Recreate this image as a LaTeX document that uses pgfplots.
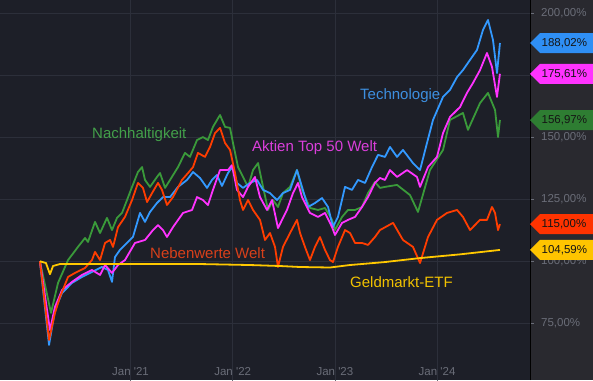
\documentclass[border=0pt]{standalone}
\usepackage{pgfplots}
\pgfplotsset{compat=1.18}
\usepackage{fontspec}
\setmainfont{Liberation Sans}
\definecolor{bg}{HTML}{1D1F28}
\definecolor{strip}{HTML}{29292F}
\definecolor{gridc}{HTML}{2C2F3A}
\definecolor{tickc}{HTML}{6A6D78}
\definecolor{ctech}{HTML}{3399FF}
\definecolor{ctop}{HTML}{FF33FF}
\definecolor{cnach}{HTML}{3A9A3A}
\definecolor{cneben}{HTML}{FF3D00}
\definecolor{cgeld}{HTML}{FFC800}
\definecolor{ltech}{HTML}{3D8FE0}
\definecolor{ltop}{HTML}{DB3FDB}
\definecolor{lnach}{HTML}{43A04A}
\definecolor{lneben}{HTML}{D9401A}
\definecolor{lgeld}{HTML}{F2C200}
\definecolor{gtag}{HTML}{2E7D32}
\definecolor{ttag}{HTML}{2F8FF5}
\definecolor{rtag}{HTML}{FF3300}
\definecolor{ytag}{HTML}{FFC400}
\definecolor{tagtxt}{HTML}{151515}
\newcommand{\lblfont}{\fontsize{15}{17}\selectfont}
\newcommand{\tickfont}{\fontsize{11.5}{13}\selectfont}
\begin{document}
\begin{tikzpicture}
\path[use as bounding box] (0,0) rectangle (593pt,380pt);
\fill[bg] (0,0) rectangle (530pt,380pt);
\fill[strip] (530pt,0) rectangle (593pt,380pt);
\begin{axis}[
  at={(0,0)}, anchor=south west,
  scale only axis, width=530pt, height=380pt,
  xmin=2019.7231, xmax=2024.909, ymin=52.14, ymax=205.36,
  axis line style={draw=none},
  xtick={2021,2022,2023,2024},
  xticklabels={Jan \textquotesingle21,Jan \textquotesingle22,Jan \textquotesingle23,Jan \textquotesingle24},
  ytick={75,100,125,150,175,200},
  yticklabels={{75,00\%},{100,00\%},{125,00\%},{150,00\%},{175,00\%},{200,00\%}},
  grid=major, grid style={gridc, line width=0.8pt},
  tick style={tickc, line width=0.6pt},
  major tick length=4pt,
  tick align=outside,
  ytick pos=right, xtick pos=bottom,
  yticklabel pos=right,
  yticklabel style={anchor=west, font=\tickfont, text=tickc, inner sep=0pt, xshift=7pt},
  xticklabel style={anchor=base, font=\tickfont, text=tickc, inner sep=0pt, yshift=9pt},
  clip=false,
  every axis plot/.append style={line width=1.8pt, line join=round},
]
% Nachhaltigkeit
\addplot[cnach] coordinates {
(2020.114,100) (2020.222,79.2) (2020.291,91.3) (2020.389,100.5) (2020.486,105.8) (2020.555,109.4)
(2020.584,107.8) (2020.653,115.9) (2020.702,111.4) (2020.770,117.5) (2020.819,112.6) (2020.868,117.5)
(2020.917,119.5) (2020.966,124.7) (2021.015,130.0) (2021.073,136.0) (2021.113,138.0) (2021.142,132.8)
(2021.191,130.0) (2021.259,134.0) (2021.289,135.6) (2021.338,129.6) (2021.387,132.8) (2021.465,138.0)
(2021.533,143.7) (2021.582,142.1) (2021.651,148.9) (2021.709,150.1) (2021.758,148.9) (2021.807,154.2)
(2021.876,159.0) (2021.925,154.2) (2021.974,153.8) (2022.003,147.7) (2022.052,138.0) (2022.101,134.0)
(2022.150,130.0) (2022.199,136.8) (2022.248,139.6) (2022.297,130.0) (2022.346,120.7) (2022.394,124.7)
(2022.443,121.9) (2022.492,127.5) (2022.561,130.0) (2022.629,136.8) (2022.678,128.8) (2022.756,121.5)
(2022.835,120.7) (2022.903,121.5) (2022.972,116.7) (2023.001,112.6) (2023.070,117.9) (2023.128,120.7)
(2023.197,120.7) (2023.265,121.9) (2023.324,127.5) (2023.392,132.0) (2023.441,129.6) (2023.490,130.0)
(2023.608,130.8) (2023.735,126.7) (2023.813,119.9) (2023.930,136.8) (2024.058,144.9) (2024.126,157.0)
(2024.253,159.8) (2024.302,153.0) (2024.420,163.8) (2024.498,167.9) (2024.567,161.0) (2024.596,150.1)
(2024.615,156.97)
};
% Technologie
\addplot[ctech] coordinates {
(2020.114,100) (2020.203,66.3) (2020.261,80.4) (2020.330,87.2) (2020.428,91.3) (2020.525,93.7)
(2020.623,95.7) (2020.721,97.7) (2020.780,96.5) (2020.819,91.7) (2020.848,101.7) (2020.897,104.6)
(2020.946,106.6) (2021.024,109.8) (2021.093,119.5) (2021.142,115.9) (2021.191,119.9) (2021.259,123.5)
(2021.318,125.9) (2021.387,125.9) (2021.465,130.0) (2021.553,132.8) (2021.612,136.0) (2021.680,133.6)
(2021.749,129.6) (2021.797,132.8) (2021.846,134.8) (2021.895,130.4) (2021.954,135.6) (2021.993,138.0)
(2022.042,131.6) (2022.101,129.6) (2022.169,131.6) (2022.238,132.8) (2022.297,128.8) (2022.365,127.5)
(2022.434,124.7) (2022.492,127.5) (2022.561,128.8) (2022.629,136.8) (2022.678,130.0) (2022.737,121.9)
(2022.805,123.5) (2022.874,125.5) (2022.933,121.9) (2022.981,113.8) (2023.030,117.9) (2023.099,130.0)
(2023.167,128.8) (2023.226,132.8) (2023.295,131.6) (2023.363,138.0) (2023.422,142.9) (2023.490,142.1)
(2023.539,146.1) (2023.608,142.1) (2023.666,144.9) (2023.764,139.6) (2023.833,136.8) (2023.901,147.7)
(2023.960,157.0) (2024.058,166.3) (2024.126,169.1) (2024.195,174.3) (2024.253,177.1) (2024.322,181.2)
(2024.390,185.2) (2024.449,193.3) (2024.498,197.3) (2024.547,189.2) (2024.586,175.9) (2024.615,188.02)
};
% Aktien Top 50 Welt
\addplot[ctop] coordinates {
(2020.114,100) (2020.212,72.3) (2020.261,81.6) (2020.330,88.4) (2020.428,91.7) (2020.525,94.5)
(2020.623,96.5) (2020.702,94.5) (2020.751,98.5) (2020.819,95.3) (2020.878,98.5) (2020.946,100.5)
(2021.044,107.4) (2021.142,108.6) (2021.220,112.6) (2021.269,114.6) (2021.318,112.6) (2021.357,109.8)
(2021.416,113.8) (2021.514,119.5) (2021.602,120.7) (2021.651,125.9) (2021.709,124.7) (2021.758,122.7)
(2021.807,128.8) (2021.876,136.8) (2021.954,136.8) (2021.993,138.8) (2022.042,128.8) (2022.101,125.9)
(2022.150,130.0) (2022.218,134.0) (2022.267,125.9) (2022.336,120.7) (2022.385,124.7) (2022.443,113.4)
(2022.531,120.7) (2022.590,127.5) (2022.639,131.6) (2022.678,125.9) (2022.756,119.5) (2022.835,117.9)
(2022.903,119.5) (2022.972,113.8) (2023.001,110.6) (2023.070,115.5) (2023.128,116.7) (2023.197,117.9)
(2023.265,121.9) (2023.324,125.9) (2023.392,131.6) (2023.441,133.6) (2023.490,132.8) (2023.539,136.8)
(2023.608,134.0) (2023.706,136.8) (2023.803,134.0) (2023.833,130.0) (2023.911,138.0) (2023.999,142.1)
(2024.058,151.7) (2024.126,158.2) (2024.224,162.2) (2024.292,167.9) (2024.351,171.9) (2024.420,177.1)
(2024.488,184.0) (2024.537,178.4) (2024.586,166.3) (2024.615,175.61)
};
% Nebenwerte Welt
\addplot[cneben] coordinates {
(2020.114,100) (2020.203,68.3) (2020.261,79.2) (2020.310,85.6) (2020.389,93.7) (2020.457,95.3)
(2020.555,97.3) (2020.623,100.5) (2020.653,103.8) (2020.702,100.5) (2020.751,107.4) (2020.800,108.6)
(2020.829,105.8) (2020.878,113.8) (2020.946,117.9) (2021.015,124.7) (2021.073,131.6) (2021.122,129.6)
(2021.162,123.9) (2021.211,127.5) (2021.269,131.6) (2021.308,128.8) (2021.357,122.7) (2021.416,125.9)
(2021.504,132.8) (2021.563,135.6) (2021.612,138.0) (2021.660,143.7) (2021.729,142.1) (2021.778,146.1)
(2021.827,151.7) (2021.876,153.8) (2021.925,147.7) (2021.974,144.9) (2022.023,135.6) (2022.071,124.7)
(2022.101,120.7) (2022.150,124.7) (2022.199,120.7) (2022.267,116.7) (2022.316,108.6) (2022.365,111.4)
(2022.414,105.8) (2022.443,97.7) (2022.492,105.8) (2022.561,111.4) (2022.629,116.7) (2022.659,111.4)
(2022.707,105.8) (2022.756,100.5) (2022.805,105.8) (2022.854,109.8) (2022.903,104.6) (2022.952,100.5)
(2022.981,99.7) (2023.030,105.8) (2023.099,112.6) (2023.148,111.4) (2023.197,107.4) (2023.265,107.4)
(2023.324,106.6) (2023.392,109.8) (2023.441,112.6) (2023.569,115.5) (2023.666,108.6) (2023.764,105.8)
(2023.833,99.3) (2023.911,109.8) (2023.999,116.7) (2024.097,119.5) (2024.195,120.7) (2024.253,117.9)
(2024.322,112.6) (2024.420,116.7) (2024.488,116.7) (2024.537,121.9) (2024.567,119.5) (2024.596,112.6)
(2024.615,115.0)
};
% Geldmarkt-ETF
\addplot[cgeld] coordinates {
(2020.114,100) (2020.173,99.3) (2020.212,94.8) (2020.242,98.1) (2020.310,98.9) (2020.702,98.9)
(2021.191,98.9) (2021.680,98.9) (2022.169,98.5) (2022.463,98.1) (2022.659,97.7) (2022.952,97.5)
(2023.148,98.5) (2023.490,99.7) (2023.833,101.3) (2024.224,102.8) (2024.615,104.59)
};
\node[anchor=west, inner sep=0pt, text=ltech, font=\lblfont] at (axis cs:2023.2456,167.0) {Technologie};
\node[anchor=west, inner sep=0pt, text=lnach, font=\lblfont] at (axis cs:2020.623,150.9) {Nachhaltigkeit};
\node[anchor=west, inner sep=0pt, text=ltop, font=\lblfont] at (axis cs:2022.189,145.7) {Aktien Top 50 Welt};
\node[anchor=west, inner sep=0pt, text=lneben, font=\lblfont] at (axis cs:2021.191,103.4) {Nebenwerte Welt};
\node[anchor=west, inner sep=0pt, text=lgeld, font=\lblfont] at (axis cs:2023.148,91.7) {Geldmarkt-ETF};
\coordinate (tT) at (axis cs:2024.909,188.02);
\coordinate (tA) at (axis cs:2024.909,175.61);
\coordinate (tN) at (axis cs:2024.909,156.97);
\coordinate (tW) at (axis cs:2024.909,115.00);
\coordinate (tG) at (axis cs:2024.909,104.59);
\end{axis}
\draw[black, line width=1pt] (530pt,0) -- (530pt,380pt);
\foreach \c/\col/\txt in {tT/ttag/{188,02\%}, tA/ctop/{175,61\%}, tN/gtag/{156,97\%}, tW/rtag/{115,00\%}, tG/ytag/{104,59\%}} {
  \fill[\col] (\c) -- ++(10pt,10pt) -- ++(60pt,0pt) -- ++(0pt,-20pt) -- ++(-60pt,0pt) -- cycle;
  \node[anchor=west, inner sep=0pt, text=tagtxt, font=\tickfont] at ([xshift=11.5pt]\c) {\txt};
}
\end{tikzpicture}
\end{document}
